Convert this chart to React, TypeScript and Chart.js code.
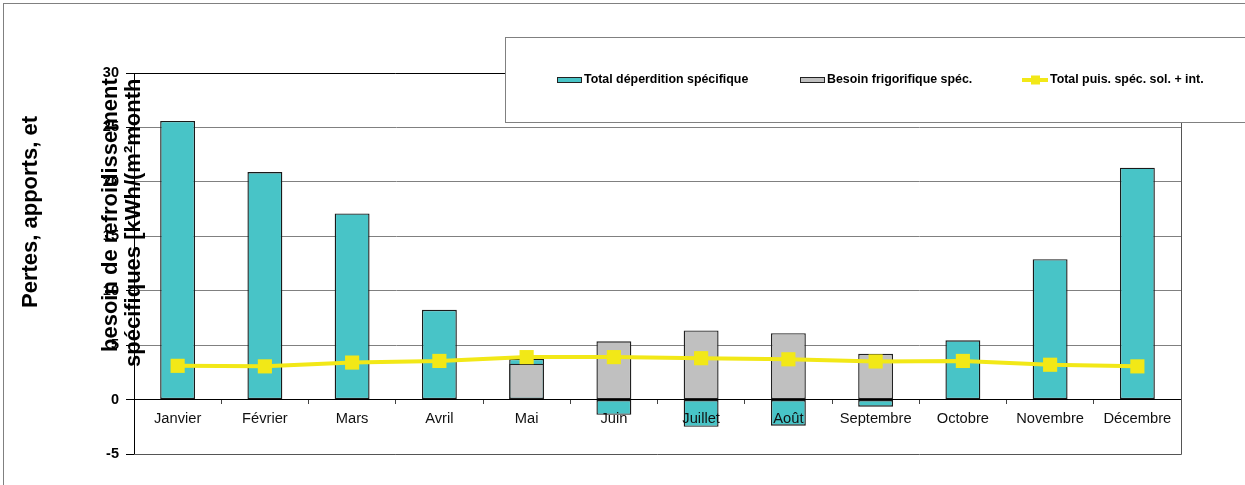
import React, { useEffect, useRef } from 'react';
import { Chart, registerables } from 'chart.js';

Chart.register(...registerables);

const months = ['Janvier', 'Février', 'Mars', 'Avril', 'Mai', 'Juin', 'Juillet', 'Août', 'Septembre', 'Octobre', 'Novembre', 'Décembre'];
const deperdition = [25.6, 20.9, 17.1, 8.25, 3.75, -1.4, -2.5, -2.4, -0.65, 5.45, 12.9, 21.3];
const besoinFrigo = [null, null, null, null, 3.3, 5.35, 6.35, 6.1, 4.2, null, null, null];
const puissance = [3.1, 3.05, 3.4, 3.55, 3.9, 3.9, 3.8, 3.7, 3.5, 3.55, 3.2, 3.05];
const yMin = -5;
const yMax = 30;
const yStep = 5;
const legendLabels = ['Total déperdition spécifique', 'Besoin frigorifique spéc.', 'Total puis. spéc. sol. + int.'];
const titleLines = ['Pertes, apports, et', 'besoin de refroidissement', 'spécifiques [kWh/(m²month'];

const TEAL = '#48C4C7';
const GRAY = '#C0C0C0';
const YELLOW = '#F2E817';
const FONT = '"Liberation Sans", Arial, sans-serif';

const overlay = {
  id: 'overlay',
  afterDraw(chart: any) {
    const ctx = chart.ctx as CanvasRenderingContext2D;
    const a = chart.chartArea;
    ctx.save();
    // outer border
    ctx.strokeStyle = '#808080';
    ctx.lineWidth = 1;
    ctx.strokeRect(3.5, 3.5, 1260, 500);
    // plot frame
    ctx.strokeStyle = '#000';
    ctx.beginPath();
    ctx.moveTo(a.left, Math.round(a.top) + 0.5);
    ctx.lineTo(a.right, Math.round(a.top) + 0.5);
    ctx.stroke();
    ctx.strokeStyle = '#555';
    ctx.beginPath();
    ctx.moveTo(Math.round(a.right) + 0.5, a.top);
    ctx.lineTo(Math.round(a.right) + 0.5, Math.round(a.bottom) + 0.5);
    ctx.lineTo(a.left, Math.round(a.bottom) + 0.5);
    ctx.stroke();

    // legend box
    ctx.fillStyle = '#fff';
    ctx.fillRect(505, 37, 760, 85);
    ctx.strokeStyle = '#808080';
    ctx.strokeRect(505.5, 37.5, 760, 85);
    ctx.font = `bold 12.4px ${FONT}`;
    ctx.textBaseline = 'middle';
    ctx.textAlign = 'left';
    const ly = 80;
    // teal
    ctx.fillStyle = TEAL;
    ctx.fillRect(557, 77, 25, 6);
    ctx.strokeStyle = '#222';
    ctx.strokeRect(557.5, 77.5, 24, 5);
    ctx.fillStyle = '#000';
    ctx.fillText(legendLabels[0], 584, ly);
    // gray
    ctx.fillStyle = GRAY;
    ctx.fillRect(800, 77, 25, 6);
    ctx.strokeStyle = '#222';
    ctx.strokeRect(800.5, 77.5, 24, 5);
    ctx.fillStyle = '#000';
    ctx.fillText(legendLabels[1], 827, ly);
    // yellow
    ctx.strokeStyle = YELLOW;
    ctx.lineWidth = 4;
    ctx.beginPath();
    ctx.moveTo(1022, ly);
    ctx.lineTo(1048, ly);
    ctx.stroke();
    ctx.fillStyle = YELLOW;
    ctx.fillRect(1031, ly - 4.5, 9, 9);
    ctx.fillStyle = '#000';
    ctx.fillText(legendLabels[2], 1050, ly);

    // axis title (rotated)
    ctx.font = `bold 22px ${FONT}`;
    ctx.textBaseline = 'alphabetic';
    const pos = [[37, 308], [117, 352], [140, 367]];
    titleLines.forEach((t, i) => {
      ctx.save();
      ctx.translate(pos[i][0], pos[i][1]);
      ctx.rotate(-Math.PI / 2);
      ctx.fillStyle = '#000';
      ctx.fillText(t, 0, 0);
      ctx.restore();
    });
    ctx.restore();
  },
};

export default function App() {
  const ref = useRef<HTMLCanvasElement>(null);
  useEffect(() => {
    if (!ref.current) return;
    const chart = new Chart(ref.current, {
      type: 'bar',
      data: {
        labels: months,
        datasets: [
          {
            type: 'line',
            label: legendLabels[2],
            data: puissance,
            borderColor: YELLOW,
            backgroundColor: YELLOW,
            borderWidth: 4,
            pointStyle: 'rect',
            pointRadius: 10,
            pointBorderWidth: 0,
            pointBackgroundColor: YELLOW,
            tension: 0,
            order: 0,
          } as any,
          {
            type: 'bar',
            label: legendLabels[1],
            data: besoinFrigo,
            backgroundColor: GRAY,
            borderColor: '#222',
            borderWidth: 1.4,
            borderSkipped: false,
            grouped: false,
            barPercentage: 0.4,
            categoryPercentage: 1,
            order: 1,
          } as any,
          {
            type: 'bar',
            label: legendLabels[0],
            data: deperdition,
            backgroundColor: TEAL,
            borderColor: '#1a1a1a',
            borderWidth: 1.4,
            borderSkipped: false,
            grouped: false,
            barPercentage: 0.4,
            categoryPercentage: 1,
            order: 2,
          } as any,
        ],
      },
      options: {
        responsive: false,
        animation: false,
        devicePixelRatio: 1,
        layout: { padding: { left: 0, top: 73, right: 64, bottom: 31 } },
        plugins: { legend: { display: false }, tooltip: { enabled: false } },
        scales: {
          x: {
            position: { y: 0 } as any,
            afterFit: (s: any) => { s.height = 0; },
            grid: {
              display: true,
              drawOnChartArea: false,
              drawTicks: true,
              tickLength: 4,
              offset: true,
              tickColor: '#444',
            },
            border: { display: true, color: '#000', width: 1, z: 1 },
            ticks: {
              z: 1,
              color: '#111',
              font: { family: FONT, size: 14.7 },
              padding: 7,
              maxRotation: 0,
              autoSkip: false,
            },
          },
          y: {
            min: yMin,
            max: yMax,
            afterFit: (s: any) => { s.width = 134; },
            grid: {
              color: (c: any) => {
                const v = c.tick && c.tick.value;
                return v > yMin && v < yMax && v !== 0 ? '#808080' : 'rgba(0,0,0,0)';
              },
              tickColor: '#000',
              tickLength: 8,
              drawTicks: true,
            },
            border: { display: true, color: '#000', width: 1 },
            ticks: {
              stepSize: yStep,
              color: '#000',
              font: { family: FONT, size: 14.5, weight: 'bold' },
              padding: 7,
              callback: (v: any) => String(v),
            },
          },
        },
      },
      plugins: [overlay],
    });
    return () => chart.destroy();
  }, []);
  return (
    <div style={{ position: 'absolute', left: 0, top: 0, width: 1245, height: 485, background: '#fff' }}>
      <canvas ref={ref} width={1245} height={485} style={{ display: 'block' }} />
    </div>
  );
}
